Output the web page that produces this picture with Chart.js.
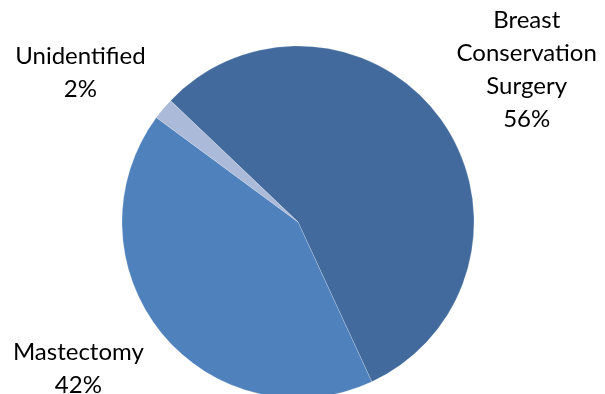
<!DOCTYPE html>
<html>
<head>
<meta charset="utf-8">
<script src="https://cdn.jsdelivr.net/npm/chart.js@4.4.1/dist/chart.umd.min.js"></script>
<style>
  html, body { margin: 0; padding: 0; background: #fff; }
  #wrap { width: 605px; height: 394px; }
</style>
</head>
<body>
<div id="wrap"><canvas id="pie" width="605" height="394"></canvas></div>
<script>
// surgery types
var categories = ["Breast\nConservation\nSurgery", "Mastectomy", "Unidentified"];
var shares = [56, 42, 2];
var sliceColors = ["#426a9d", "#4f81bd", "#aabad8"];

// where each label sits: distance from centre (x radius) and angle nudge (deg)
var labelLayout = [
  { dist: 1.56, nudge: 2 },
  { dist: 1.50, nudge: 5.5 },
  { dist: 1.50, nudge: -5.5 }
];

var outsideLabels = {
  id: "outsideLabels",
  afterDatasetsDraw: function(chart) {
    var ctx = chart.ctx;
    var arcs = chart.getDatasetMeta(0).data;
    ctx.save();
    ctx.font = "24px Lato";
    ctx.fillStyle = "#000";
    ctx.textAlign = "center";
    ctx.textBaseline = "middle";
    arcs.forEach(function(arc, i) {
      var p = arc.getProps(["x", "y", "startAngle", "endAngle", "outerRadius"], true);
      var mid = (p.startAngle + p.endAngle) / 2 + labelLayout[i].nudge * Math.PI / 180;
      var d = p.outerRadius * labelLayout[i].dist;
      var cx = p.x + Math.cos(mid) * d;
      var cy = p.y + Math.sin(mid) * d;
      var lines = categories[i].split("\n").concat([shares[i] + "%"]);
      var lh = 33;
      var top = cy - (lines.length - 1) * lh / 2;
      lines.forEach(function(t, k) {
        ctx.fillText(t, cx, top + k * lh);
      });
    });
    ctx.restore();
  }
};

new Chart(document.getElementById("pie"), {
  type: "pie",
  data: {
    labels: categories,
    datasets: [{
      data: shares,
      backgroundColor: sliceColors,
      borderColor: "rgba(255,255,255,0.25)",
      borderWidth: 0.75,
      radius: 176
    }]
  },
  options: {
    responsive: false,
    animation: false,
    rotation: -46.4,
    layout: { padding: { left: 0, right: 9, top: 50, bottom: 0 } },
    plugins: {
      legend: { display: false },
      tooltip: { enabled: false }
    }
  },
  plugins: [outsideLabels]
});
</script>
</body>
</html>
